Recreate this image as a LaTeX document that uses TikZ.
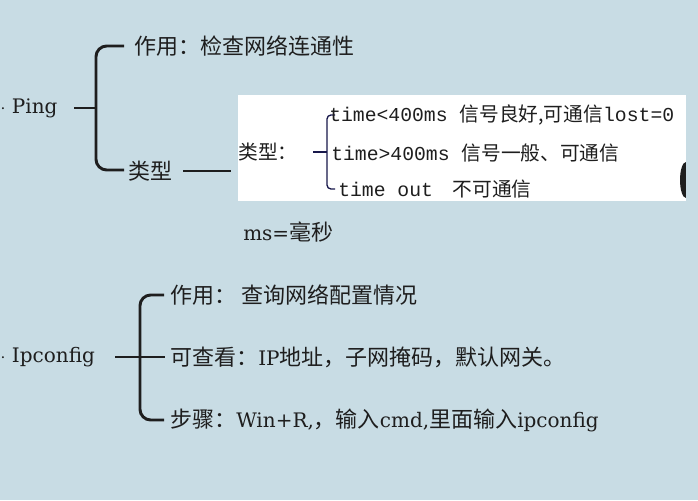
\documentclass[tikz,border=0pt]{standalone}
\usepackage{fontspec}
\setmainfont{DejaVu Serif}
\setmonofont{Liberation Mono}
\newfontfamily\cjk{Noto Sans CJK SC}
\definecolor{bg}{RGB}{200,220,228}
\definecolor{ink}{RGB}{30,30,30}
\begin{document}
\begin{tikzpicture}[x=0.75pt,y=-0.75pt,
  txt/.style={anchor=west,inner sep=0pt,text=ink,font=\fontsize{16.5}{19}\selectfont},
  small/.style={anchor=west,inner sep=0pt,text=ink,font=\fontsize{14.8}{16}\selectfont},
  brace/.style={draw=ink,line width=2.2pt,rounded corners=8pt},
  thinb/.style={draw=ink!80!blue,line width=1pt,rounded corners=3pt}]
\fill[bg] (0,0) rectangle (698,500);
\useasboundingbox (0,0) rectangle (698,500);
\newcommand\lt[1]{{\rmfamily\fontsize{15}{18}\selectfont #1}}
% Ping
\node[txt] (ping) at (0,108) {\lt{$\cdot$ Ping}};
\coordinate (pb) at (96,108);
\draw[draw=ink,line width=2.2pt] (74,108) -- (pb);
\node[txt] (zy1) at (134,46) {\cjk 作用：检查网络连通性};
\node[txt] (lx) at (128,171) {\cjk 类型};
\draw[brace] (124,46) -- (96,46) -- (96,170) -- (124,170);
\coordinate (lxe) at (231,171);
\draw[draw=ink,line width=2.2pt] (183,171) -- (lxe);
% image box
\fill[white] (238,95) rectangle (686,201);
\fill[ink] (686,180) ellipse (6 and 18);
\fill[bg] (686,95) rectangle (698,201);
\node[small] (lx2) at (238,152) {\cjk 类型：};
\draw[thinb] (335,115) -- (327,115) -- (327,189) -- (335,189);
\draw[draw=ink!80!blue,line width=1pt] (313,152) -- (327,152);
\node[small] (t1) at (329,115) {\ttfamily time<400ms \cjk 信号良好,可通信\ttfamily lost=0};
\node[small] (t2) at (331,153) {\ttfamily time>400ms \cjk 信号一般、可通信};
\node[small] (t3) at (338,189) {\ttfamily time out\quad\cjk 不可通信};
\node[txt] (ms) at (243,232) {\lt{ms=}\cjk 毫秒};
% Ipconfig
\node[txt] (ip) at (0,357) {\lt{$\cdot$ Ipconfig}};
\draw[draw=ink,line width=2.2pt] (115,357) -- (140,357) -- (165,357);
\draw[brace] (164,295) -- (140,295) -- (140,420) -- (164,420);
\node[txt] (a1) at (170,295) {\cjk 作用：\ 查询网络配置情况};
\node[txt] (a2) at (170,357) {\cjk 可查看：\lt{IP}地址，子网掩码，默认网关。};
\node[txt] (a3) at (170,420) {\cjk 步骤：\lt{Win+R,}，输入\lt{cmd,}里面输入\lt{ipconfig}};
\end{tikzpicture}
\end{document}
